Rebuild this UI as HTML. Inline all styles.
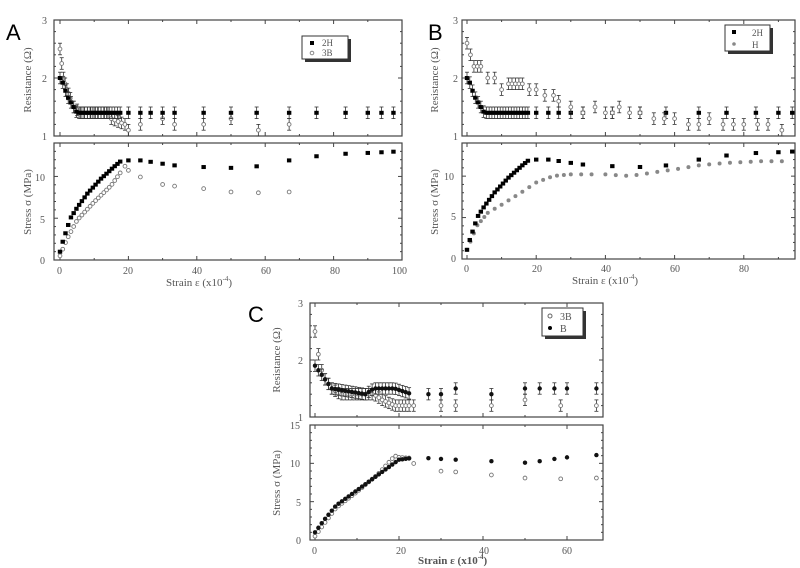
<!DOCTYPE html>
<html><head><meta charset="utf-8"><style>
html,body{margin:0;padding:0;background:#fff;width:800px;height:568px;overflow:hidden}
svg{display:block}
text{font-family:"Liberation Serif",serif;fill:#555}
.big{font-family:"Liberation Sans",sans-serif;fill:#000;font-size:22px}
</style></head><body>
<svg id="s" width="800" height="568" viewBox="0 0 800 568" xmlns="http://www.w3.org/2000/svg">
<text class="big" x="6" y="40">A</text>
<text class="big" x="428" y="40">B</text>
<text class="big" x="248" y="322">C</text>
<!-- A labels -->
<g font-size="10">
<text x="42" y="24">3</text><text x="42" y="82">2</text><text x="42" y="140">1</text>
<text x="40" y="264">0</text><text x="40" y="223">5</text><text x="35" y="181">10</text>
<text x="57" y="274">0</text><text x="123" y="274">20</text><text x="192" y="274">40</text><text x="261" y="274">60</text><text x="330" y="274">80</text><text x="392" y="274">100</text>
<text x="166" y="286" font-size="11">Strain ε (x10<tspan dy="-5" font-size="7">-4</tspan><tspan dy="5">)</tspan></text>
<text transform="translate(31,80) rotate(-90)" text-anchor="middle" font-size="11">Resistance (Ω)</text>
<text transform="translate(31,202) rotate(-90)" text-anchor="middle" font-size="11">Stress σ (MPa)</text>
<!-- B labels -->
<text x="453" y="24">3</text><text x="453" y="82">2</text><text x="453" y="140">1</text>
<text x="451" y="262">0</text><text x="451" y="220">5</text><text x="444" y="180">10</text>
<text x="464" y="272">0</text><text x="532" y="272">20</text><text x="601" y="272">40</text><text x="670" y="272">60</text><text x="739" y="272">80</text>
<text x="572" y="284" font-size="11">Strain ε (x10<tspan dy="-5" font-size="7">-4</tspan><tspan dy="5">)</tspan></text>
<text transform="translate(438,80) rotate(-90)" text-anchor="middle" font-size="11">Resistance (Ω)</text>
<text transform="translate(438,202) rotate(-90)" text-anchor="middle" font-size="11">Stress σ (MPa)</text>
<!-- C labels -->
<text x="298" y="307">3</text><text x="298" y="364">2</text><text x="298" y="421">1</text>
<text x="296" y="544">0</text><text x="296" y="506">5</text><text x="290" y="467">10</text><text x="290" y="429">15</text>
<text x="312" y="554">0</text><text x="396" y="554">20</text><text x="479" y="554">40</text><text x="562" y="554">60</text>
<text x="418" y="564" font-size="11" font-weight="bold">Strain ε (x10<tspan dy="-5" font-size="7">-4</tspan><tspan dy="5">)</tspan></text>
<text transform="translate(280,360) rotate(-90)" text-anchor="middle" font-size="11">Resistance (Ω)</text>
<text transform="translate(280,483) rotate(-90)" text-anchor="middle" font-size="11">Stress σ (MPa)</text>
</g>
<!-- legends -->
<rect x="305" y="39" width="46" height="23" fill="#333"/><rect x="302" y="36" width="46" height="23" fill="#fff" stroke="#333"/>
<rect x="310" y="41" width="4" height="4" fill="#000"/><text x="322" y="46" font-size="9">2H</text>
<circle cx="312" cy="53" r="1.8" fill="none" stroke="#888"/><text x="322" y="56" font-size="9">3B</text>
<rect x="728" y="28" width="45" height="26" fill="#333"/><rect x="725" y="25" width="45" height="26" fill="#fff" stroke="#333"/>
<rect x="732" y="30" width="4" height="4" fill="#000"/><text x="752" y="36" font-size="9">2H</text>
<circle cx="734" cy="44" r="1.8" fill="#888"/><text x="752" y="48" font-size="9">H</text>
<rect x="545" y="311" width="41" height="28" fill="#333"/><rect x="542" y="308" width="41" height="28" fill="#fff" stroke="#333"/>
<circle cx="550" cy="316" r="2" fill="none" stroke="#666"/><text x="560" y="320" font-size="10">3B</text>
<circle cx="550" cy="328" r="2" fill="#000"/><text x="560" y="332" font-size="10">B</text>
<g id="g"></g>
</svg>
<script>
var g=document.getElementById('g'),ns='http://www.w3.org/2000/svg';
function el(t,a){var e=document.createElementNS(ns,t);for(var k in a)e.setAttribute(k,a[k]);g.appendChild(e);return e;}
function line(x1,y1,x2,y2,c,w){el('line',{x1:x1,y1:y1,x2:x2,y2:y2,stroke:c||'#444','stroke-width':w||1});}
function frame(L,R,T,B,xs,xmax,xstep,ymin,ymax,ystep){
  el('rect',{x:L,y:T,width:R-L,height:B-T,fill:'none',stroke:'#444','stroke-width':1.2});
  for(var v=0;v<=xmax+0.01;v+=xstep/2){var x=xs(v);if(x>R)break;var l=(Math.round(v/xstep*2)%2==0)?4:2;line(x,B,x,B-l);line(x,T,x,T+l);}
  var n=(ymax-ymin)/ystep;
  for(var i=0;i<=n*5;i++){var y=B-(B-T)*i/(n*5);var l=i%5==0?4:2;line(L,y,L+l,y);line(R,y,R-l,y);}
}
function mk(xs,ys,pts,type,err){
  pts.forEach(function(p){var x=xs(p[0]),y=ys(p[1]);
    if(err){var e=Math.abs(ys(p[1]+0.1)-y);line(x,y-e,x,y+e,'#333',0.8);line(x-2,y-e,x+2,y-e,'#333',0.8);line(x-2,y+e,x+2,y+e,'#333',0.8);}
    if(type=='sq')el('rect',{x:x-2.2,y:y-2,width:4.4,height:4,fill:'#000'});
    else if(type=='dot')el('circle',{cx:x,cy:y,r:2.2,fill:'#111'});
    else if(type=='gdot')el('circle',{cx:x,cy:y,r:2,fill:'#888'});
    else el('circle',{cx:x,cy:y,r:1.9,fill:'#fff',stroke:'#777','stroke-width':0.9});
  });
}
function curve(kn,xs){var out=[];xs.forEach(function(x){for(var i=0;i<kn.length-1;i++){if(x>=kn[i][0]&&x<=kn[i+1][0]){var t=(x-kn[i][0])/(kn[i+1][0]-kn[i][0]);out.push([x,kn[i][1]+t*(kn[i+1][1]-kn[i][1])]);break;}}});return out;}
var early=[];for(var v=0;v<=18;v+=0.8)early.push(+v.toFixed(1));
var tail2H=[20,23.5,26.5,30,33.5,42,50,57.5,67,75,83.5,90,94,97.5];
var s2H=[[0,1],[1,2.5],[2,3.7],[3,5],[5,6.3],[8,8],[12,9.8],[16,11.3],[18,12],[20,12],[23.5,12],[27,11.8],[30,11.6],[33.5,11.4],[42,11.2],[50,11.1],[58,11.3],[67,12],[75,12.5],[83.5,12.8],[90,12.9],[95,13],[100,13.1]];
var r2H=[[0,2],[1,1.9],[2,1.7],[3,1.6],[4,1.5],[5,1.4],[100,1.4]];
// Panel A
(function(){var xs=function(v){return 60+v*3.42},yr=function(v){return 136-(v-1)*58},yst=function(v){return 260-v*8.3};
frame(54,402,20,136,xs,100,20,1,3,1);frame(54,402,143,260,xs,100,20,0,14,5);
mk(xs,yr,curve([[0,2.5],[1,2.0],[2,1.8],[4,1.5],[6,1.4],[14,1.4],[15,1.3],[19,1.2],[20,1.1],[67,1.1]],[0,0.5,1,1.5,2,2.5,3,4,5,6,7,8,9,10,11,12,13,14,15,16,17,18,19,20]).concat([[23.5,1.2],[30,1.3],[33.5,1.2],[42,1.2],[50,1.3],[58,1.1],[67,1.2]]),'o',true);
mk(xs,yr,curve(r2H,early.concat(tail2H)),'sq',true);
mk(xs,yst,curve([[0,0.5],[2,2.5],[5,4.8],[10,7],[15,9],[19,11.3]],early.concat([19])).concat([[20,10.8],[23.5,10],[30,9.1],[33.5,8.9],[42,8.6],[50,8.2],[58,8.1],[67,8.2]]),'o');
mk(xs,yst,curve(s2H,early.concat(tail2H)),'sq');})();
// Panel B
(function(){var xs=function(v){return 467+v*3.46},yr=function(v){return 136-(v-1)*58},yst=function(v){return 258-v*8.2};
frame(462,795,20,136,xs,95,20,1,3,1);frame(462,795,143,259,xs,95,20,0,14,5);
var hx=[0,1,2,3,4,6,8,10,12,13,14,15,16,18,20,22.5,25,26.5,30,33.5,37,40,42,44,47,50,54,57,60,64,67,70,74,77,80,84,87,91];
var hr=[[0,2.6],[1,2.4],[2,2.2],[4,2.2],[6,2.0],[8,2.0],[10,1.8],[12,1.9],[16,1.9],[18,1.8],[20,1.8],[22.5,1.7],[25,1.7],[26.5,1.6],[30,1.5],[33.5,1.4],[37,1.5],[40,1.4],[42,1.4],[44,1.5],[47,1.4],[50,1.4],[54,1.3],[57,1.3],[60,1.3],[64,1.2],[67,1.2],[70,1.3],[74,1.2],[84,1.2],[87,1.2],[91,1.1]];
mk(xs,yr,curve(r2H,early.concat(tail2H.filter(function(v){return v<96}))),'sq',true);
mk(xs,yr,curve(hr,hx),'o',true);
var hs=[[0,1],[3,4],[6,5.5],[10,6.5],[15,7.8],[20,9.2],[25,10],[30,10.2],[40,10.2],[47,10],[55,10.5],[60,10.8],[67,11.3],[75,11.6],[85,11.8],[91,11.8]];
var hsx=[0,1,2,3,4,5,6,8,10,12,14,16,18,20,22,24,26,28,30,33,36,40,43,46,49,52,55,58,61,64,67,70,73,76,79,82,85,88,91];
mk(xs,yst,curve(hs,hsx),'gdot');
mk(xs,yst,curve(s2H,early.concat(tail2H.filter(function(v){return v<96}))),'sq');})();
// Panel C
(function(){var xs=function(v){return 315+v*4.2},yr=function(v){return 417-(v-1)*57},yst=function(v){return 540-v*7.65};
frame(310,603,303,417,xs,70,20,1,3,1);frame(310,603,425,540,xs,70,20,0,15,5);
var cx=[];for(var v=0;v<=23;v+=0.8)cx.push(+v.toFixed(1));
mk(xs,yr,curve([[0,2.5],[1,2.0],[2,1.7],[4,1.5],[6,1.4],[14,1.4],[16,1.3],[19,1.2],[21,1.2],[23.5,1.2]],cx.concat([23.5])).concat([[30,1.2],[33.5,1.2],[42,1.2],[50,1.3],[58.5,1.2],[67,1.2]]),'o',true);
mk(xs,yr,curve([[0,1.9],[1,1.8],[2,1.7],[3,1.6],[4,1.5],[12,1.4],[14,1.5],[19,1.5],[23,1.4]],cx).concat([[27,1.4],[30,1.4],[33.5,1.5],[42,1.4],[50,1.5],[53.5,1.5],[57,1.5],[60,1.5],[67,1.5]]),'dot',true);
var base=[[0,1],[2,2.5],[5,4.5],[10,6.5],[15,8.5],[20,10.5],[23,10.7]];
mk(xs,yst,curve([[0,0.5],[2,2],[5,4.2],[10,6.3],[15,8.6],[19,11],[20,10.8],[23,10.7]],cx).concat([[23.5,10],[30,9],[33.5,8.9],[42,8.5],[50,8.1],[58.5,8.0],[67,8.1]]),'o');
mk(xs,yst,curve(base,cx).concat([[27,10.7],[30,10.6],[33.5,10.5],[42,10.3],[50,10.1],[53.5,10.3],[57,10.6],[60,10.8],[67,11.1]]),'dot');})();
</script>
</body></html>
